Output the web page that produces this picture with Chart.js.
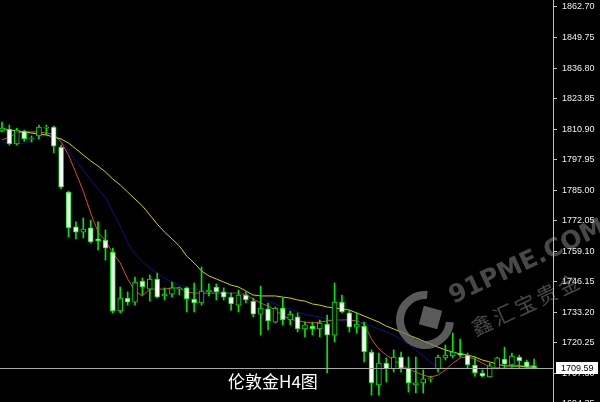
<!DOCTYPE html>
<html>
<head>
<meta charset="utf-8">
<script src="https://cdn.jsdelivr.net/npm/chart.js@4"></script>
<style>
html, body { margin: 0; padding: 0; background: #000; overflow: hidden; }
#wrap { position: relative; width: 600px; height: 402px; overflow: hidden; background: #000; }
#chart { position: absolute; left: 0; top: 0; }
.title { position: absolute; left: 228px; top: 371px; color: #fff; font: 17px/20px "Noto Sans CJK SC", sans-serif; white-space: nowrap; }
.logo { position: absolute; left: 396px; top: 291px; width: 42px; height: 42px; border: 8px solid rgba(120,120,120,0.75); border-right-color: transparent; border-radius: 50%; transform: rotate(-40deg); }
.logo-sq { position: absolute; left: 421px; top: 308px; width: 19px; height: 19px; background: rgba(120,120,120,0.75); transform: rotate(15deg); }
.wm1 { position: absolute; left: 442px; top: 246px; color: rgba(190,190,190,0.38); font: bold 25px "DejaVu Sans", sans-serif; transform: rotate(-25deg); white-space: nowrap; }
.wm2 { position: absolute; left: 466px; top: 288px; color: rgba(190,190,190,0.38); font: 21px "Noto Sans CJK SC", sans-serif; transform: rotate(-25deg); white-space: nowrap; letter-spacing: 3px; }
</style>
</head>
<body>
<div id="wrap">
  <canvas id="chart" width="600" height="420"></canvas>
  <div class="logo"></div>
  <div class="logo-sq"></div>
  <div class="wm1">91PME.COM</div>
  <div class="wm2">鑫汇宝贵金</div>
  <div class="title">伦敦金H4图</div>
</div>
<script>
// H4 candles, oldest first
const candleOpen = [1810.1,1810.9,1804.6,1810.1,1806.7,1808.0,1811.3,1811.8,1803.3,1784.2,
  1769.4,1767.2,1769.0,1764.3,1763.8,1758.7,1733.7,1739.2,1737.5,1746.4,
  1743.0,1747.3,1740.1,1740.9,1743.0,1743.5,1738.8,1737.1,1741.8,1743.9,
  1741.8,1739.6,1736.2,1740.5,1737.9,1732.4,1734.6,1729.0,1735.0,1729.9,
  1731.2,1726.1,1727.3,1726.1,1728.2,1723.5,1737.5,1732.9,1726.9,1727.3,
  1716.3,1702.3,1711.6,1709.1,1714.2,1709.5,1702.3,1703.2,1704.9,1709.1,
  1713.8,1714.6,1715.9,1715.0,1710.8,1707.4,1705.7,1709.5,1713.3,1710.8,
  1714.2,1712.1,1710.4];
const candleHigh = [1813.9,1812.6,1811.3,1810.5,1808.0,1812.6,1812.6,1812.2,1804.1,1784.6,
  1771.5,1773.2,1772.3,1771.5,1768.1,1760.4,1743.9,1741.8,1748.1,1747.7,
  1749.0,1749.8,1743.5,1746.0,1743.9,1743.9,1745.6,1752.4,1745.2,1745.2,
  1743.5,1741.3,1742.6,1741.8,1739.2,1744.3,1737.1,1735.4,1739.2,1733.7,
  1732.9,1729.0,1729.0,1729.9,1732.0,1745.6,1740.5,1734.1,1732.9,1729.0,
  1717.2,1715.9,1713.8,1717.2,1716.3,1714.2,1714.2,1708.7,1706.1,1715.0,
  1719.3,1724.4,1721.8,1715.9,1714.2,1708.7,1711.6,1714.2,1718.4,1715.9,
  1715.0,1712.9,1713.3];
const candleLow = [1809.7,1804.1,1804.1,1805.8,1805.4,1806.7,1808.4,1800.8,1785.5,1765.1,
  1764.3,1764.7,1762.6,1759.6,1755.3,1732.9,1732.9,1736.2,1736.2,1740.5,
  1737.9,1739.2,1738.4,1739.6,1740.5,1733.3,1733.3,1736.2,1740.1,1738.4,
  1738.4,1734.1,1733.3,1737.1,1731.2,1723.5,1725.7,1728.6,1727.8,1727.8,
  1724.8,1722.7,1723.5,1722.7,1707.4,1720.6,1732.9,1724.8,1724.4,1712.1,
  1698.0,1698.0,1703.6,1707.8,1707.8,1699.3,1698.9,1698.9,1703.6,1707.8,
  1712.9,1713.8,1714.2,1709.5,1706.1,1705.7,1705.7,1709.1,1709.5,1709.9,
  1709.5,1709.9,1709.1];
const candleClose = [1811.3,1804.6,1810.5,1806.7,1807.1,1811.8,1811.8,1803.7,1786.3,1769.0,
  1767.2,1768.5,1763.0,1763.4,1760.4,1733.7,1739.2,1737.5,1746.0,1743.9,
  1747.3,1739.6,1740.9,1743.5,1743.5,1738.8,1737.1,1742.2,1742.6,1741.8,
  1739.6,1736.7,1740.5,1738.4,1732.4,1735.0,1729.5,1735.0,1729.9,1732.4,
  1726.1,1727.8,1726.1,1728.6,1723.5,1737.5,1733.3,1726.9,1728.2,1716.3,
  1703.2,1711.6,1709.1,1714.2,1709.5,1703.2,1703.2,1704.9,1705.3,1714.2,
  1715.0,1716.3,1715.0,1710.8,1707.4,1706.1,1710.4,1713.8,1711.2,1714.6,
  1712.5,1709.9,1709.59];

// moving averages
const maRed = [1806.3,1807.5,1809.2,1809.7,1809.7,1809.7,1809.2,1808.8,1805.4,1799.9,
  1792.3,1784.6,1775.3,1767.2,1763.4,1758.3,1754.1,1747.3,1742.2,1740.1,
  1743.0,1743.0,1743.0,1743.5,1743.5,1741.8,1741.3,1741.3,1741.3,1741.3,
  1741.3,1741.3,1741.3,1740.5,1738.8,1737.1,1735.8,1734.1,1731.6,1730.3,
  1729.5,1729.0,1728.6,1729.0,1729.5,1729.9,1729.9,1729.9,1729.5,1728.2,
  1721.8,1717.6,1715.0,1712.9,1710.8,1709.1,1707.8,1706.5,1705.7,1706.5,
  1708.7,1711.6,1713.8,1714.2,1713.3,1711.6,1709.9,1709.5,1709.5,1709.9,
  1710.4,1710.4,1710.4];
const maBlue = [1805.4,1805.0,1804.6,1805.0,1805.8,1807.1,1808.4,1808.8,1806.3,1801.6,
  1797.4,1793.5,1789.3,1785.5,1781.7,1775.7,1769.8,1762.6,1757.9,1754.5,
  1752.0,1749.8,1747.7,1746.0,1744.7,1743.9,1743.0,1742.6,1742.2,1741.8,
  1741.8,1741.3,1741.3,1740.9,1740.1,1739.2,1737.9,1736.7,1735.4,1734.6,
  1733.3,1732.4,1731.6,1731.2,1730.3,1729.9,1729.9,1729.5,1729.0,1728.6,
  1727.3,1726.1,1724.8,1723.5,1721.8,1719.7,1717.2,1714.6,1712.1,1709.9,
  1709.5,1709.5,1709.5,1709.5,1709.5,1709.5,1709.5,1709.5,1709.5,1709.9,
  1709.9,1709.9,1709.9];
const maYellow = [1811.3,1810.5,1810.1,1809.7,1809.2,1808.8,1808.4,1807.5,1806.7,1805.0,
  1802.5,1799.9,1797.4,1795.2,1792.7,1789.7,1787.2,1784.2,1781.2,1778.3,
  1774.5,1770.6,1767.2,1764.3,1761.3,1757.0,1754.1,1750.7,1748.6,1747.3,
  1746.0,1744.7,1743.9,1742.2,1740.5,1740.1,1740.1,1740.1,1739.6,1739.2,
  1738.4,1737.9,1736.7,1736.2,1735.4,1735.0,1734.6,1734.1,1732.9,1731.6,
  1730.3,1729.0,1727.3,1726.1,1724.8,1723.5,1722.3,1721.0,1719.7,1718.4,
  1717.2,1716.3,1715.5,1715.0,1714.2,1712.9,1712.1,1711.2,1710.4,1710.4,
  1710.4,1709.9,1709.9];

const priceTicks = [1862.70,1849.75,1836.80,1823.85,1810.90,1797.95,1785.00,
  1772.05,1759.10,1746.15,1733.20,1720.25,1707.30,1694.35];

const green = '#00e600';
const isUp = candleClose.map((c, i) => c >= candleOpen[i]);

const bodies = candleOpen.map((o, i) => ({ x: i, y: [o, candleClose[i]] }));
const wicks = candleLow.map((l, i) => ({ x: i, y: [l, candleHigh[i]] }));
const toPts = arr => arr.map((v, i) => ({ x: i, y: v }));

function maLine(data, color) {
  return {
    type: 'line',
    data: toPts(data),
    borderColor: color,
    borderWidth: 1,
    pointRadius: 0,
    tension: 0,
    order: 3
  };
}

// bid line + price box on the axis
const bidLine = {
  id: 'bidLine',
  afterDraw(chart) {
    const { ctx, chartArea, scales } = chart;
    const last = candleClose[candleClose.length - 1];
    const py = Math.round(scales.y.getPixelForValue(last)) + 0.5;
    ctx.save();
    ctx.strokeStyle = '#a8a8a8';
    ctx.lineWidth = 1;
    ctx.beginPath();
    ctx.moveTo(chartArea.left, py);
    ctx.lineTo(chartArea.right, py);
    ctx.stroke();
    ctx.fillStyle = '#fff';
    ctx.fillRect(chartArea.right + 3, py - 6.5, 42, 12);
    ctx.fillStyle = '#000';
    ctx.font = '9px "Liberation Sans"';
    ctx.textBaseline = 'middle';
    ctx.fillText(last.toFixed(2), chartArea.right + 8, py);
    ctx.restore();
  }
};

new Chart(document.getElementById('chart'), {
  type: 'bar',
  data: {
    datasets: [
      {
        data: bodies,
        backgroundColor: isUp.map(u => u ? '#000' : '#fff'),
        borderColor: green,
        borderWidth: 1,
        borderSkipped: false,
        barThickness: 5,
        grouped: false,
        order: 1
      },
      {
        data: wicks,
        backgroundColor: green,
        borderWidth: 0,
        barThickness: 1,
        grouped: false,
        order: 2
      },
      maLine(maYellow, '#d2d200'),
      maLine(maBlue, '#10108a'),
      maLine(maRed, '#e0472f')
    ]
  },
  options: {
    responsive: false,
    animation: false,
    devicePixelRatio: 1,
    layout: { padding: 0 },
    plugins: { legend: { display: false }, tooltip: { enabled: false } },
    scales: {
      x: { type: 'linear', min: -0.27, max: 74.56, offset: false, display: false },
      y: {
        position: 'right',
        min: 1687.46,
        max: 1865.67,
        afterFit(s) {
          s.width = 47;
          s.paddingTop = 0;
          s.paddingBottom = 0;
        },
        afterBuildTicks(s) { s.ticks = priceTicks.map(v => ({ value: v })); },
        ticks: {
          color: '#f0f0f0',
          font: { family: 'Liberation Sans', size: 9 },
          padding: 5,
          autoSkip: false,
          callback: v => v.toFixed(2)
        },
        grid: { drawOnChartArea: false, tickLength: 4, color: '#c0c0c0' },
        border: { color: '#c0c0c0' }
      }
    }
  },
  plugins: [bidLine]
});
</script>
</body>
</html>
